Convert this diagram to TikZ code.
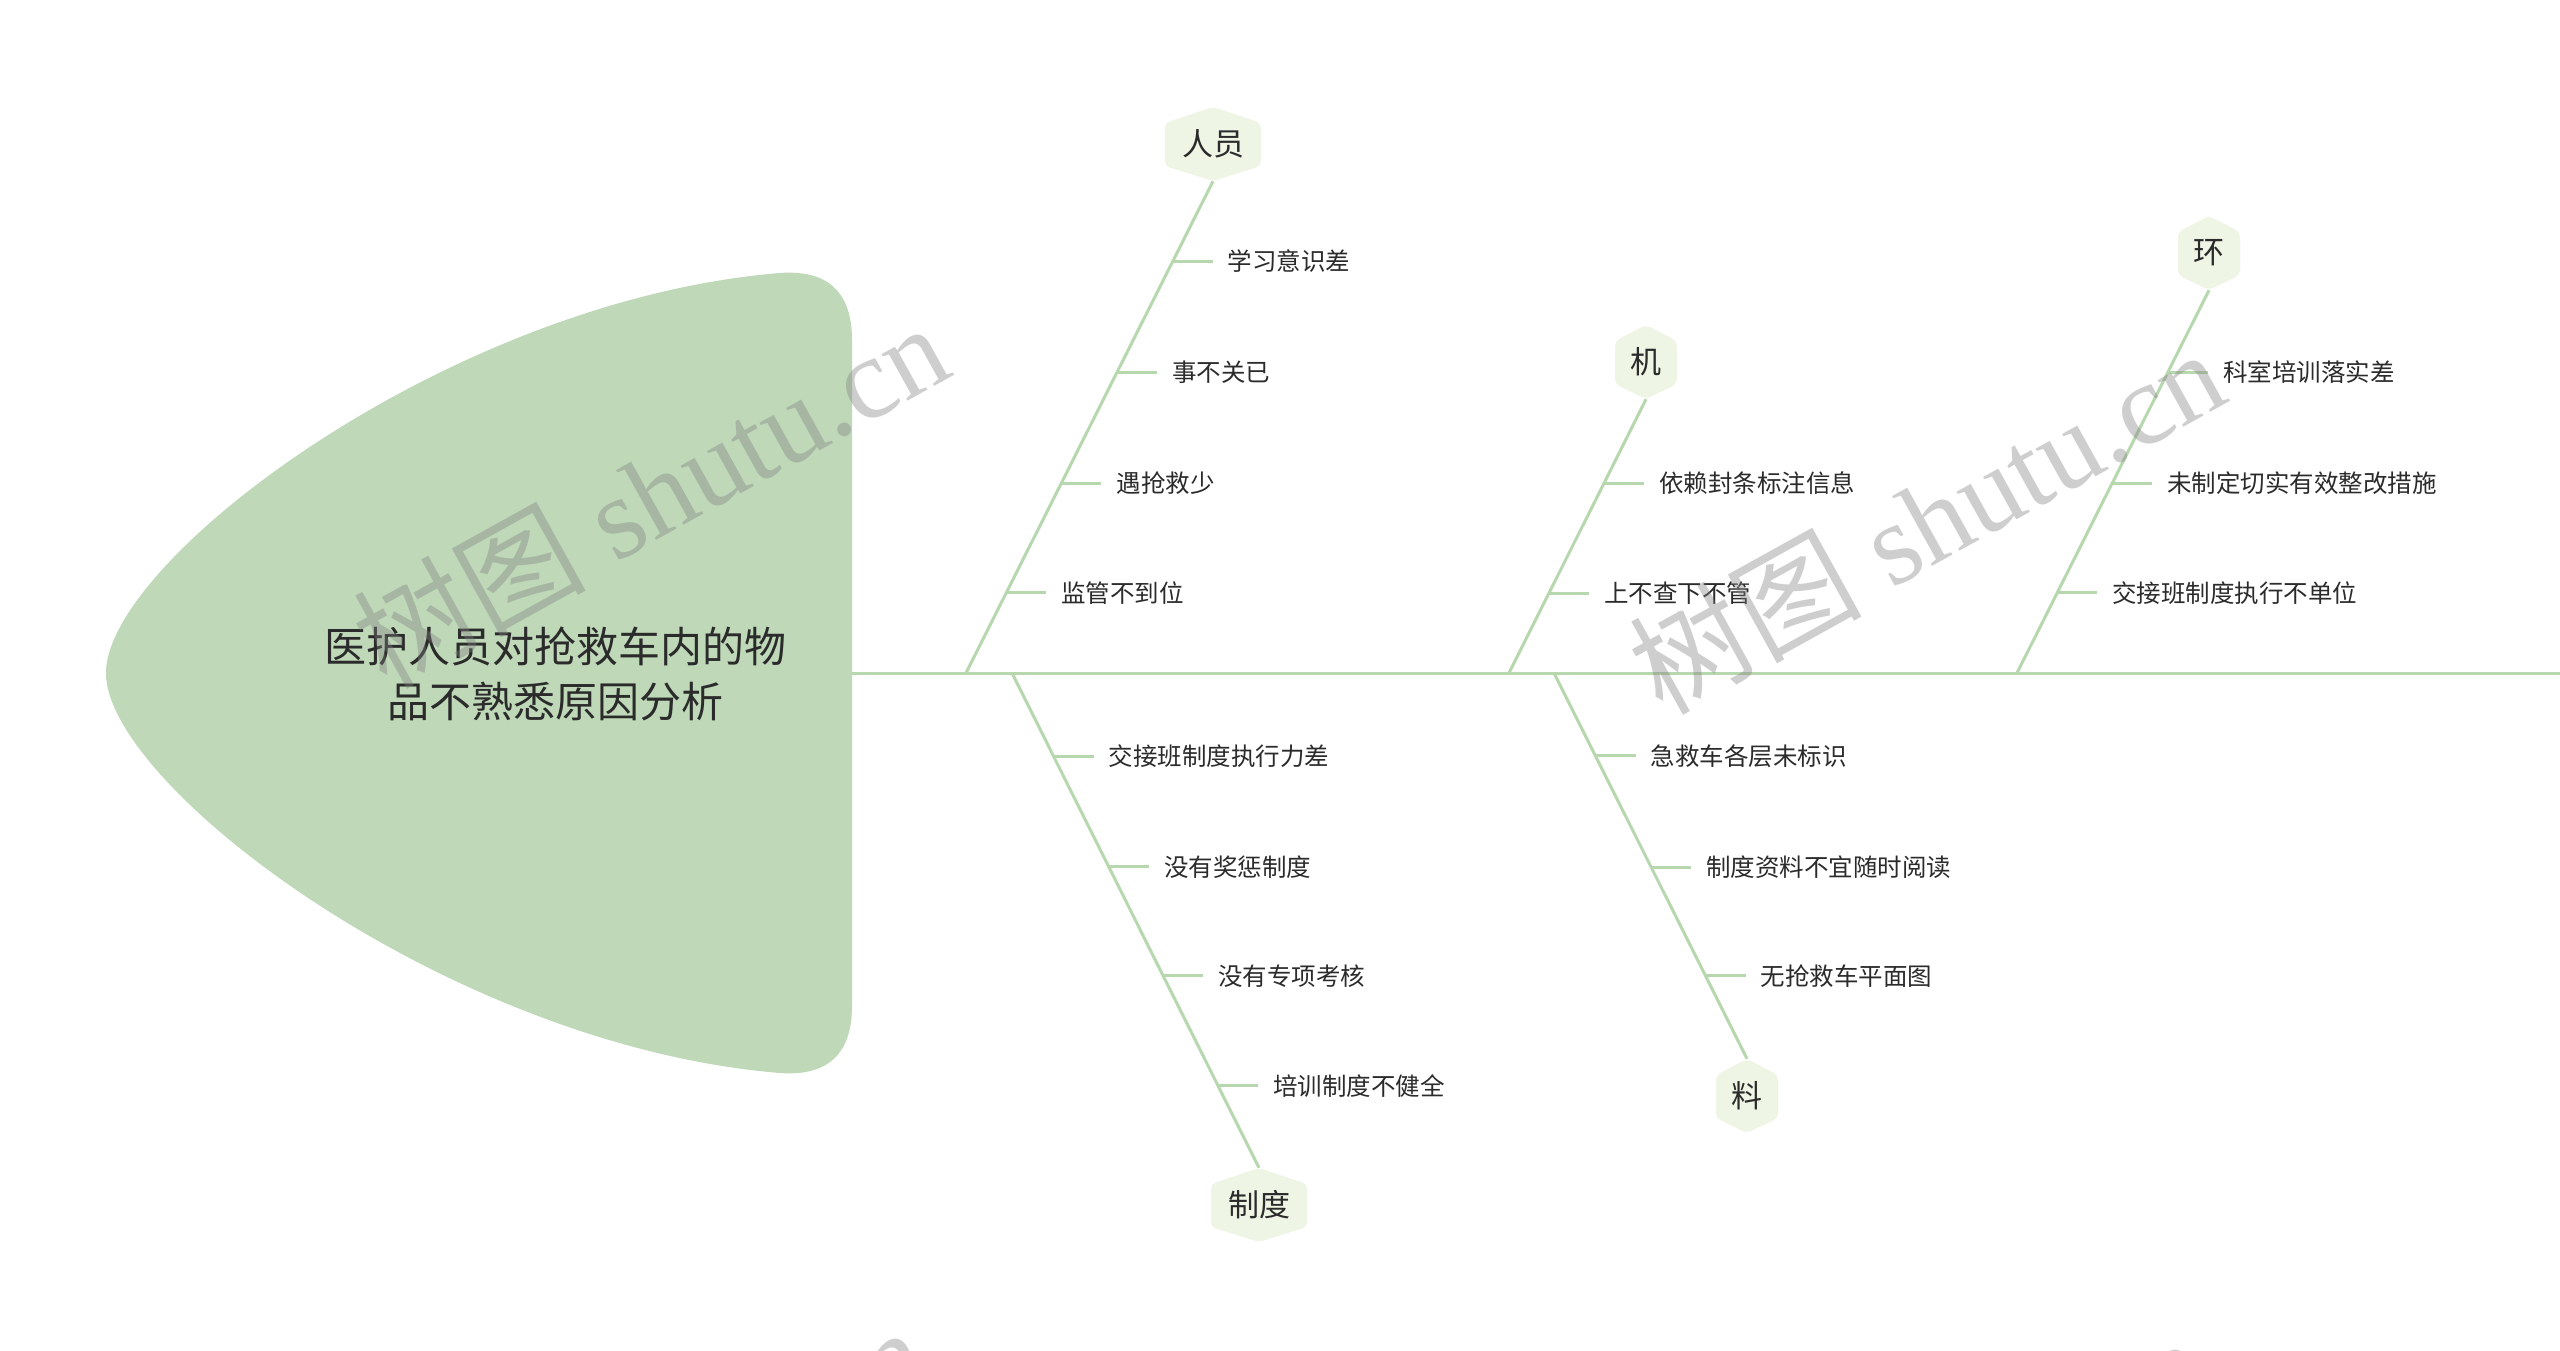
\documentclass[tikz,border=0pt]{standalone}
\usepackage{fontspec}
\newfontfamily\cjkfont{Noto Sans CJK SC}
\newfontfamily\wmserif{Liberation Serif}
\usetikzlibrary{calc}
\definecolor{bonec}{HTML}{B7D7AE}
\definecolor{headc}{HTML}{BED8B8}
\definecolor{hexc}{HTML}{EEF5E4}
\definecolor{txtc}{HTML}{2B2B2B}
\tikzset{
  bone/.style={draw=bonec, line width=3pt},
  item/.style={font=\cjkfont\fontsize{24.5}{28}\selectfont, text=txtc, anchor=west, inner xsep=15pt, inner ysep=0pt},
  hexlabel/.style={font=\cjkfont\fontsize{31}{36}\selectfont, text=txtc, inner sep=0pt, minimum height=74pt},
  hexfill/.style={fill=hexc, rounded corners=5pt},
  titletext/.style={font=\cjkfont\fontsize{42}{55}\selectfont, text=txtc, align=center},
  wm/.style={text=gray, opacity=0.38, rotate=29, font=\wmserif\fontsize{116}{116}\selectfont}
}
\newcommand{\HexBox}[5]{%
  \fill[hexfill] (#2,#3-37) -- (#2+#4,#3-21) -- (#2+#4,#3+22) -- (#2,#3+37) -- (#2-#4,#3+22) -- (#2-#4,#3-21) -- cycle;
  \node[hexlabel, minimum width=#4*2pt] (#1) at (#2,#3) {#5};
}
\newcommand{\Twig}[5]{%
  \coordinate (#1b) at ($(#2)!#4!(#3)$);
  \node[item] (#1) at ($(#1b)+(40,0)$) {#5};
  \draw[bone] (#1b) -- (#1.west);
}
\begin{document}
\begin{tikzpicture}[x=1pt,y=-1pt]
\useasboundingbox (0,0) rectangle (2560,1351);
\fill[white] (0,0) rectangle (2560,1351);
% head
\fill[headc] (106,673) .. controls (106,560) and (450,300) .. (780,273)
  .. controls (835,269) and (852,300) .. (852,340) -- (852,1006)
  .. controls (852,1046) and (835,1077) .. (780,1073)
  .. controls (450,1046) and (106,786) .. (106,673) -- cycle;
\node[titletext] (title) at (555,674) {医护人员对抢救车内的物\\品不熟悉原因分析};
% spine
\coordinate (spL) at (852,673);
\coordinate (spR) at (2560,673);
\draw[bone] (spL) -- (spR);
% category boxes
\HexBox{h1}{1213}{144}{48}{人员}
\HexBox{h2}{1259}{1205}{48}{制度}
\HexBox{h3}{1646}{362}{31}{机}
\HexBox{h4}{1747}{1096}{31}{料}
\HexBox{h5}{2209}{253}{31}{环}
% bones
\coordinate (s1) at (966,673);
\coordinate (s2) at (1012,673);
\coordinate (s3) at (1509,673);
\coordinate (s4) at (1554,673);
\coordinate (s5) at (2017,673);
\draw[bone] (s1) -- (h1.south);
\draw[bone] (s2) -- (h2.north);
\draw[bone] (s3) -- (h3.south);
\draw[bone] (s4) -- (h4.north);
\draw[bone] (s5) -- (h5.south);
% twigs
\Twig{a1}{s1}{h1.south}{0.837}{学习意识差}
\Twig{a2}{s1}{h1.south}{0.612}{事不关已}
\Twig{a3}{s1}{h1.south}{0.386}{遇抢救少}
\Twig{a4}{s1}{h1.south}{0.163}{监管不到位}
\Twig{b1}{s2}{h2.north}{0.168}{交接班制度执行力差}
\Twig{b2}{s2}{h2.north}{0.392}{没有奖惩制度}
\Twig{b3}{s2}{h2.north}{0.612}{没有专项考核}
\Twig{b4}{s2}{h2.north}{0.834}{培训制度不健全}
\Twig{c1}{s3}{h3.south}{0.693}{依赖封条标注信息}
\Twig{c2}{s3}{h3.south}{0.292}{上不查下不管}
\Twig{d1}{s4}{h4.north}{0.215}{急救车各层未标识}
\Twig{d2}{s4}{h4.north}{0.503}{制度资料不宜随时阅读}
\Twig{d3}{s4}{h4.north}{0.785}{无抢救车平面图}
\Twig{e1}{s5}{h5.south}{0.786}{科室培训落实差}
\Twig{e2}{s5}{h5.south}{0.496}{未制定切实有效整改措施}
\Twig{e3}{s5}{h5.south}{0.209}{交接班制度执行不单位}
% watermarks
\node[wm] (wm1) at (650,494) {{\cjkfont 树图} shutu.cn};
\node[wm] (wm2) at (1926,520) {{\cjkfont 树图} shutu.cn};
\node[wm] (wm3) at (628,1498) {{\cjkfont 树图} shutu.cn};
\node[wm] (wm4) at (1908,1509) {{\cjkfont 树图} shutu.cn};
\end{tikzpicture}
\end{document}
